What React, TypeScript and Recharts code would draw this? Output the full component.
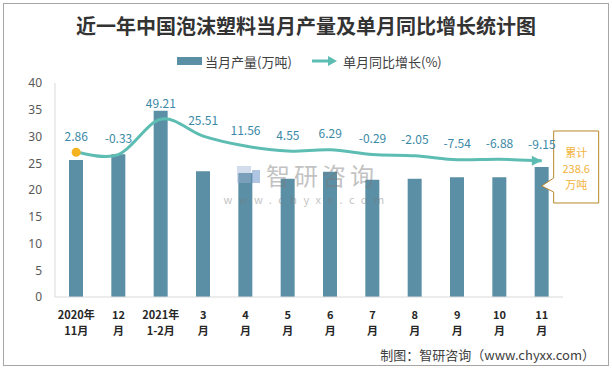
import React from 'react';
import { ComposedChart, Bar, Line, XAxis, YAxis, LabelList } from 'recharts';

const catTop = ['2020年', '12', '2021年', '3', '4', '5', '6', '7', '8', '9', '10', '11'];
const catBottom = ['11月', '月', '1-2月', '月', '月', '月', '月', '月', '月', '月', '月', '月'];
const output = [25.6, 26.7, 34.8, 23.5, 23.2, 22.1, 23.4, 21.9, 22.1, 22.4, 22.4, 24.3];
const growth = [2.86, -0.33, 49.21, 25.51, 11.56, 4.55, 6.29, -0.29, -2.05, -7.54, -6.88, -9.15];
const yTicks = [0, 5, 10, 15, 20, 25, 30, 35, 40];
const cumulativeLines = ['累计', '238.6', '万吨'];

const title = '近一年中国泡沫塑料当月产量及单月同比增长统计图';
const barName = '当月产量(万吨)';
const lineName = '单月同比增长(%)';
const footer = '制图：智研咨询（www.chyxx.com）';

const data = catTop.map((t, i) => ({
  cat: t + '|' + catBottom[i],
  output: output[i],
  growth: growth[i],
}));
const boundaries = [...catTop.map((_, i) => i), catTop.length];

const BAR = '#5b8fa6';
const LINE = '#5dbdb3';
const LABEL = '#3a89a6';
const SANS = '"Noto Sans CJK SC", "Noto Sans", sans-serif';

// Catmull-Rom style smoothing (like spreadsheet "smoothed line")
const smoothCurve = (context: any) => {
  let pts: number[][] = [];
  return {
    areaStart() {},
    areaEnd() {},
    lineStart() {
      pts = [];
    },
    lineEnd() {
      const n = pts.length;
      if (!n) return;
      context.moveTo(pts[0][0], pts[0][1]);
      const k = 1 / 6;
      for (let i = 0; i < n - 1; i++) {
        const p0 = pts[i - 1] || pts[i];
        const p1 = pts[i];
        const p2 = pts[i + 1];
        const p3 = pts[i + 2] || p2;
        context.bezierCurveTo(
          p1[0] + (p2[0] - p0[0]) * k,
          p1[1] + (p2[1] - p0[1]) * k,
          p2[0] - (p3[0] - p1[0]) * k,
          p2[1] - (p3[1] - p1[1]) * k,
          p2[0],
          p2[1]
        );
      }
    },
    point(x: number, y: number) {
      pts.push([+x, +y]);
    },
  };
};

const XTick = (props: any) => {
  const { x, y, payload } = props;
  const [a, b] = String(payload.value).split('|');
  return (
    <g>
      <text x={x} y={y + 15} textAnchor="middle" fontSize={11} fontWeight="bold" fill="#262626" fontFamily={SANS} dominantBaseline="central">{a}</text>
      <text x={x} y={y + 31} textAnchor="middle" fontSize={11} fontWeight="bold" fill="#262626" fontFamily={SANS} dominantBaseline="central">{b}</text>
    </g>
  );
};

const LineDot = (props: any) => {
  const { cx, cy, index } = props;
  if (index === 0) return <circle key={index} cx={cx} cy={cy} r={4.5} fill="#f5b41f" />;
  if (index === growth.length - 1)
    return <polygon key={index} points={`${cx - 10},${cy - 5} ${cx},${cy} ${cx - 10},${cy + 5}`} fill={LINE} />;
  return <g key={index} />;
};

const GrowthLabel = (props: any) => {
  const { x, y, value } = props;
  return (
    <text x={x} y={y - 17} textAnchor="middle" dominantBaseline="central" fontSize={12} fill={LABEL} fontFamily={SANS}>
      {Number(value).toFixed(2)}
    </text>
  );
};

const Callout = (props: any) => {
  const { x, y, width, index } = props;
  if (index !== output.length - 1) return null;
  const left = x + width + 5;
  const w = 45;
  const top = y - 36;
  const bot = y + 36;
  const cx = x + width / 2;
  const path = `M${left},${top} L${left + w},${top} L${left + w},${bot} L${left},${bot} L${left},${y + 25} L${cx},${y + 19} L${left},${y + 11} Z`;
  return (
    <g>
      <path d={path} fill="#ffffff" stroke="#b8862b" strokeWidth={1} />
      {cumulativeLines.map((t, i) => (
        <text key={i} x={left + w / 2} y={y - 15 + i * 16} textAnchor="middle" dominantBaseline="central" fontSize={11} fill="#f2b23a" fontFamily={SANS}>
          {t}
        </text>
      ))}
    </g>
  );
};

export default function App() {
  return (
    <div style={{ position: 'fixed', left: 0, top: 0, width: 612, height: 368, background: '#fff' }}>
      <ComposedChart width={612} height={368} data={data} margin={{ top: 83, right: 49, bottom: 31, left: 0 }}>
        <XAxis
          xAxisId="grid"
          type="number"
          domain={[0, catTop.length]}
          ticks={boundaries}
          allowDataOverflow
          tick={false}
          axisLine={false}
          tickLine={{ stroke: '#d9d9d9' }}
          tickSize={5}
          height={0}
        />
        <XAxis
          dataKey="cat"
          interval={0}
          tick={<XTick />}
          tickLine={false}
          axisLine={{ stroke: '#d9d9d9' }}
          height={40}
          tickSize={0}
        />
        <YAxis
          domain={[0, 40]}
          ticks={yTicks}
          width={55}
          tickLine={false}
          tickSize={0}
          tickMargin={13}
          axisLine={{ stroke: '#d9d9d9' }}
          tick={{ fontSize: 12, fill: '#595959', fontFamily: '"Noto Sans", sans-serif' }}
        />
        <YAxis yAxisId="right" orientation="right" hide domain={[-200, 100]} allowDataOverflow />
        <Bar dataKey="output" fill={BAR} barSize={14} isAnimationActive={false}>
          <LabelList dataKey="output" content={<Callout />} />
        </Bar>
        <Line
          yAxisId="right"
          dataKey="growth"
          type={smoothCurve as any}
          stroke={LINE}
          strokeWidth={3}
          dot={<LineDot />}
          activeDot={false}
          isAnimationActive={false}
        >
          <LabelList dataKey="growth" content={<GrowthLabel />} />
        </Line>
      </ComposedChart>
      <svg width={612} height={368} style={{ position: 'absolute', left: 0, top: 0, pointerEvents: 'none' }}>
        <rect x={3.5} y={3.5} width={605} height={362} fill="none" stroke="#a6a6a6" strokeWidth={1} />
        <text x={306} y={25} textAnchor="middle" dominantBaseline="central" fontSize={20} fontWeight="bold" fill="#333" fontFamily={SANS}>
          {title}
        </text>
        <rect x={177} y={57} width={25} height={8} fill={BAR} />
        <text x={205} y={61} dominantBaseline="central" fontSize={13} fill="#404040" fontFamily={SANS}>{barName}</text>
        <line x1={312} y1={61} x2={329} y2={61} stroke={LINE} strokeWidth={3} />
        <polygon points="328,56 337,61 328,66" fill={LINE} />
        <text x={343} y={61} dominantBaseline="central" fontSize={13} fill="#404040" fontFamily={SANS}>{lineName}</text>
        <g opacity={0.45}>
          <rect x={237} y={166} width={14} height={17} fill="#9fb3d6" />
          <rect x={252} y={170} width={8} height={13} fill="#4f7fc0" />
          <text x={322} y={174} textAnchor="middle" dominantBaseline="central" fontSize={24} fill="#7a7a7a" fontFamily={SANS} letterSpacing={4}>智研咨询</text>
          <text x={307} y={199} textAnchor="middle" dominantBaseline="central" fontSize={11} fill="#7a7a7a" fontFamily={SANS} letterSpacing={6.5}>www.chyxx.com</text>
        </g>
        <text x={595} y={354} textAnchor="end" dominantBaseline="central" fontSize={13} fill="#404040" fontFamily={SANS}>{footer}</text>
      </svg>
    </div>
  );
}
